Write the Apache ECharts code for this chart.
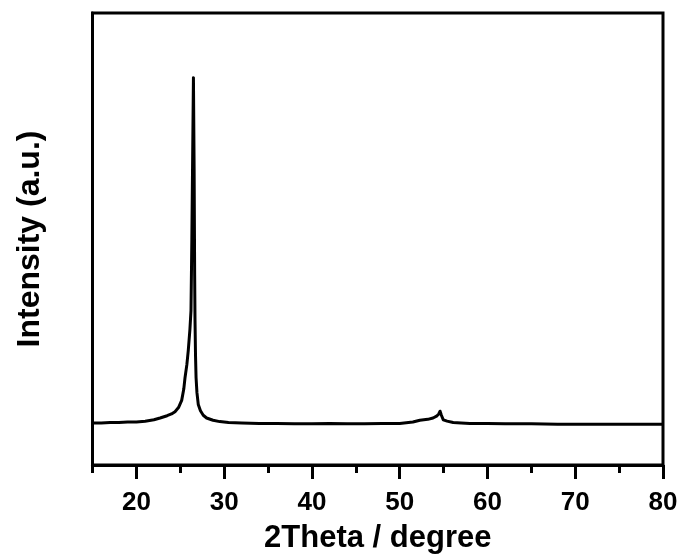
<!DOCTYPE html>
<html>
<head>
<meta charset="utf-8">
<script src="https://cdn.jsdelivr.net/npm/echarts@6/dist/echarts.min.js"></script>
<style>
html,body{margin:0;padding:0;background:#fff;}
#chart{width:682px;height:559px;}
</style>
</head>
<body>
<div id="chart"></div>
<script>
// 2Theta values (degree)
var twoTheta = [15.0,16.0,17.0,18.0,19.0,20.0,21.0,22.0,22.7,23.5,24.0,24.4,24.8,25.16,25.4,25.54,25.75,25.91,26.1,26.22,26.32,26.42,26.5,26.58,26.64,26.68,26.74,26.8,26.9,27.05,27.3,27.62,28.0,28.73,29.5,30.5,32,34,36,38,40,42,44,46,48,50,51.5,52.3,53.2,53.8,54.2,54.45,54.6,54.75,54.97,55.4,56.1,57,58,60,62,65,68,70,72,75,78,80];
// Intensity (a.u.)
var intensity = [93,93,94,94,95,95,97,100,104,109,113,118,127,143,168,193,222,253,300,341,500,700,857,650,420,320,240,193,160,134,120,110,104,99,96,94,93,92,92,91,91,92,91,91,92,92,95,99,101,104,108,113,119,110,100,97,94,93,92,92,91,91,90,90,90,90,90,90];
var majorTicks = [20,30,40,50,60,70,80];
var minorTicks = [15,25,35,45,55,65,75];

var data = twoTheta.map(function(x,i){return [x, intensity[i]];});
var font = '"Liberation Sans", Arial, sans-serif';
var chart = echarts.init(document.getElementById('chart'));
chart.setOption({
  animation:false,
  backgroundColor:'#fff',
  grid:{left:92.5,right:19,top:13,bottom:91,show:true,borderColor:'#000',borderWidth:3,backgroundColor:'transparent'},
  xAxis:[{
    type:'value',min:15,max:80,position:'bottom',
    name:'2Theta / degree',nameLocation:'middle',nameGap:58,
    nameTextStyle:{fontFamily:font,fontWeight:'bold',fontSize:31,color:'#000'},
    axisLine:{show:true,onZero:false,lineStyle:{color:'#000',width:3}},
    axisTick:{show:true,inside:false,length:14,customValues:majorTicks,lineStyle:{color:'#000',width:3}},
    axisLabel:{show:true,margin:25,customValues:majorTicks,fontFamily:font,fontWeight:'bold',fontSize:26,color:'#000'},
    splitLine:{show:false}
  },{
    type:'value',min:15,max:80,position:'bottom',
    axisLine:{show:false},
    axisTick:{show:true,inside:false,length:8,customValues:minorTicks,lineStyle:{color:'#000',width:3}},
    axisLabel:{show:false},
    splitLine:{show:false}
  }],
  yAxis:{
    type:'value',min:0,max:1000,
    name:'Intensity (a.u.)',nameLocation:'middle',nameGap:46,
    nameTextStyle:{fontFamily:font,fontWeight:'bold',fontSize:32,color:'#000'},
    axisLine:{show:true,lineStyle:{color:'#000',width:3}},
    axisTick:{show:false},axisLabel:{show:false},splitLine:{show:false}
  },
  series:[{
    type:'line',xAxisIndex:0,data:data,showSymbol:false,symbol:'none',
    lineStyle:{color:'#000',width:3,join:'round'}
  }]
});
</script>
</body>
</html>
